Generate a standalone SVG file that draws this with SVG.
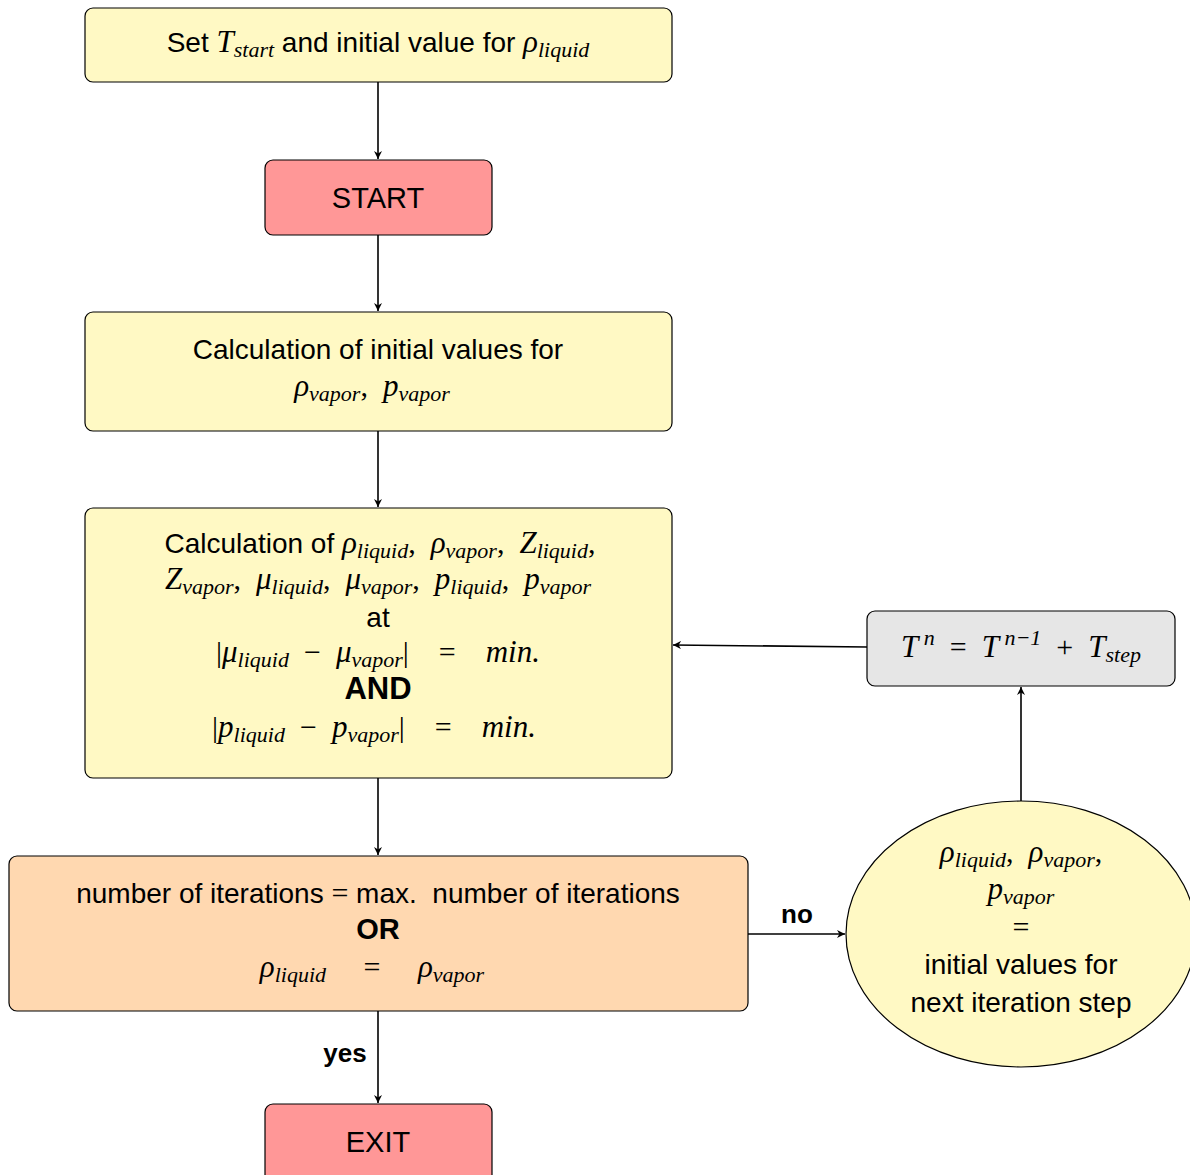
<svg xmlns="http://www.w3.org/2000/svg" width="1190" height="1175" viewBox="0 0 1190 1175">
<defs>
<style>
.box{stroke:#000;stroke-width:1.2}
.y{fill:#fff9c4}
.r{fill:#ff9797}
.o{fill:#ffd8b0}
.g{fill:#e6e6e6}
text{font-family:"Liberation Sans","DejaVu Sans",sans-serif;font-size:28px;fill:#000;text-anchor:middle}
.m{font-family:"Liberation Serif","DejaVu Serif",serif;font-style:italic;font-size:31px}
.s{font-family:"Liberation Serif","DejaVu Serif",serif;font-style:italic;font-size:22px}
.n{font-family:"Liberation Serif","DejaVu Serif",serif;font-style:normal;font-size:30px}
.b{font-weight:bold}
.c{stroke:#000;stroke-width:1.6;fill:none;marker-end:url(#ah)}
</style>
<marker id="ah" viewBox="0 0 10 10" refX="10" refY="5" markerWidth="8" markerHeight="8" markerUnits="userSpaceOnUse" orient="auto">
<path d="M0,0 L10,5 L0,10 L3,5 Z" fill="#000"/>
</marker>
</defs>
<rect width="1190" height="1175" fill="#fff"/>
<g id="connectors">
<line class="c" x1="378" y1="82" x2="378" y2="159"/>
<line class="c" x1="378" y1="235" x2="378" y2="311"/>
<line class="c" x1="378" y1="431" x2="378" y2="507"/>
<line class="c" x1="378" y1="778" x2="378" y2="855"/>
<line class="c" x1="378" y1="1011" x2="378" y2="1103"/>
<line class="c" x1="748" y1="934" x2="845" y2="934"/>
<line class="c" x1="1021" y1="801" x2="1021" y2="687"/>
<line class="c" x1="867" y1="647" x2="673" y2="645"/>
<text class="b" x="345" y="1062" style="font-size:26px">yes</text>
<text class="b" x="797" y="923" style="font-size:26px">no</text>
</g>
<g id="set">
<rect class="box y" x="85" y="8" width="587" height="74" rx="8"/>
<text x="378" y="52" xml:space="preserve">Set <tspan class="m">T</tspan><tspan class="s" dy="5">start</tspan><tspan dy="-5"> and initial value for </tspan><tspan class="m">ρ</tspan><tspan class="s" dy="5">liquid</tspan></text>
</g>
<g id="start">
<rect class="box r" x="265" y="160" width="227" height="75" rx="8"/>
<text x="378" y="208" style="font-size:29px">START</text>
</g>
<g id="init">
<rect class="box y" x="85" y="312" width="587" height="119" rx="8"/>
<text x="378" y="359">Calculation of initial values for</text>
<text x="372" y="396" xml:space="preserve"><tspan class="m">ρ</tspan><tspan class="s" dy="5">vapor</tspan><tspan dy="-5" class="n">,  </tspan><tspan class="m">p</tspan><tspan class="s" dy="5">vapor</tspan></text>
</g>
<g id="calc">
<rect class="box y" x="85" y="508" width="587" height="270" rx="8"/>
<text x="380" y="553" xml:space="preserve">Calculation of <tspan class="m">ρ</tspan><tspan class="s" dy="5">liquid</tspan><tspan dy="-5" class="n">,  </tspan><tspan class="m">ρ</tspan><tspan class="s" dy="5">vapor</tspan><tspan dy="-5" class="n">,  </tspan><tspan class="m">Z</tspan><tspan class="s" dy="5">liquid</tspan><tspan dy="-5" class="n">,</tspan></text>
<text x="378" y="589" xml:space="preserve"><tspan class="m">Z</tspan><tspan class="s" dy="5">vapor</tspan><tspan dy="-5" class="n">,  </tspan><tspan class="m">μ</tspan><tspan class="s" dy="5">liquid</tspan><tspan dy="-5" class="n">,  </tspan><tspan class="m">μ</tspan><tspan class="s" dy="5">vapor</tspan><tspan dy="-5" class="n">,  </tspan><tspan class="m">p</tspan><tspan class="s" dy="5">liquid</tspan><tspan dy="-5" class="n">,  </tspan><tspan class="m">p</tspan><tspan class="s" dy="5">vapor</tspan></text>
<text x="378" y="627">at</text>
<text x="378" y="662" xml:space="preserve"><tspan class="n">|</tspan><tspan class="m">μ</tspan><tspan class="s" dy="5">liquid</tspan><tspan dy="-5" class="n">  −  </tspan><tspan class="m">μ</tspan><tspan class="s" dy="5">vapor</tspan><tspan dy="-5" class="n">|    =    </tspan><tspan class="m">min.</tspan></text>
<text class="b" x="378" y="699" style="font-size:31px">AND</text>
<text x="374" y="737" xml:space="preserve"><tspan class="n">|</tspan><tspan class="m">p</tspan><tspan class="s" dy="5">liquid</tspan><tspan dy="-5" class="n">  −  </tspan><tspan class="m">p</tspan><tspan class="s" dy="5">vapor</tspan><tspan dy="-5" class="n">|    =    </tspan><tspan class="m">min.</tspan></text>
</g>
<g id="cond">
<rect class="box o" x="9" y="856" width="739" height="155" rx="8"/>
<text x="378" y="903" xml:space="preserve">number of iterations <tspan class="n">=</tspan> max.  number of iterations</text>
<text class="b" x="378" y="939" style="font-size:29px">OR</text>
<text x="372" y="977" xml:space="preserve"><tspan class="m">ρ</tspan><tspan class="s" dy="5">liquid</tspan><tspan dy="-5" class="n">     =     </tspan><tspan class="m">ρ</tspan><tspan class="s" dy="5">vapor</tspan></text>
</g>
<g id="tstep">
<rect class="box g" x="867" y="611" width="308" height="75" rx="8"/>
<text x="1021" y="657" xml:space="preserve"><tspan class="m">T</tspan><tspan class="s" dy="-12"> n</tspan><tspan dy="12" class="n">  =  </tspan><tspan class="m">T</tspan><tspan class="s" dy="-12"> n−1</tspan><tspan dy="12" class="n">  +  </tspan><tspan class="m">T</tspan><tspan class="s" dy="5">step</tspan></text>
</g>
<g id="reset">
<ellipse class="box y" cx="1021" cy="934" rx="175" ry="133"/>
<text x="1021" y="862" xml:space="preserve"><tspan class="m">ρ</tspan><tspan class="s" dy="5">liquid</tspan><tspan dy="-5" class="n">,  </tspan><tspan class="m">ρ</tspan><tspan class="s" dy="5">vapor</tspan><tspan dy="-5" class="n">,</tspan></text>
<text x="1021" y="899"><tspan class="m">p</tspan><tspan class="s" dy="5">vapor</tspan></text>
<text x="1021" y="937" class="n" style="font-style:normal">=</text>
<text x="1021" y="974">initial values for</text>
<text x="1021" y="1012">next iteration step</text>
</g>
<g id="exit">
<rect class="box r" x="265" y="1104" width="227" height="80" rx="8"/>
<text x="378" y="1152" style="font-size:29px">EXIT</text>
</g>
</svg>
